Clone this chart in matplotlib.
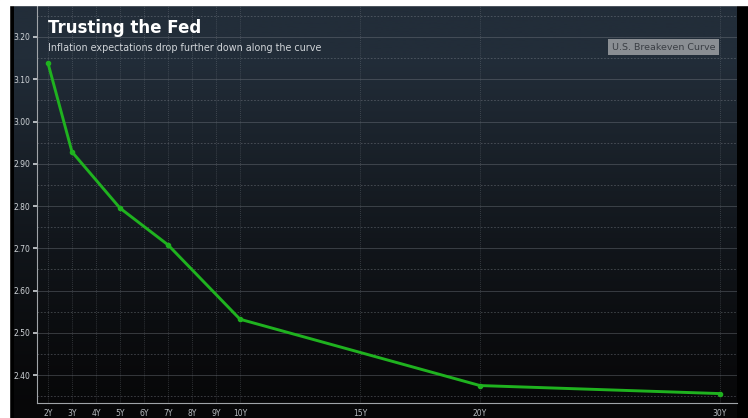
import numpy as np
import matplotlib.pyplot as plt
from matplotlib.patches import Rectangle

# breakeven curve
tenors = [2, 3, 5, 7, 10, 20, 30]
breakeven = [3.138, 2.928, 2.795, 2.708, 2.532, 2.375, 2.356]

tick_pos = [2, 3, 4, 5, 6, 7, 8, 9, 10, 15, 20, 30]
tick_lbl = ["2Y", "3Y", "4Y", "5Y", "6Y", "7Y", "8Y", "9Y", "10Y", "15Y", "20Y", "30Y"]
y_ticks = [2.40, 2.50, 2.60, 2.70, 2.80, 2.90, 3.00, 3.10, 3.20]

W, H = 748, 418
fig = plt.figure(figsize=(W / 100, H / 100), dpi=100, facecolor="black")

# white margins on the left and top of the screenshot
fig.patches.append(Rectangle((0, 0), 9 / W, 1, transform=fig.transFigure, color="white", zorder=0))
fig.patches.append(Rectangle((0, 1 - 5 / H), 1, 5 / H, transform=fig.transFigure, color="white", zorder=0))

# gradient background panel
bg = fig.add_axes([14 / W, 0, (737 - 14) / W, (H - 5) / H])
bg.axis("off")
top = np.array([0x22, 0x2d, 0x39]) / 255
bot = np.array([0x07, 0x07, 0x08]) / 255
t = np.linspace(0, 1, 256)
t = np.clip(t * 1.15, 0, 1) ** 1.3
grad = bot[None, :] * (1 - t[:, None]) + top[None, :] * t[:, None]
bg.imshow(grad[:, None, :], aspect="auto", origin="lower", extent=[0, 1, 0, 1])

ax = fig.add_axes([37 / W, 15 / H, (737 - 37) / W, (403 - 5) / H])
ax.patch.set_alpha(0)
ax.set_xlim(37 / 24, 737 / 24)
ax.set_ylim(3.20 - 366 / 422.5, 3.20 + 32 / 422.5)

ax.set_xticks(tick_pos)
ax.set_xticklabels(tick_lbl)
ax.set_yticks(y_ticks)
ax.set_yticklabels([f"{v:.2f}" for v in y_ticks])
ax.set_yticks(np.arange(2.35, 3.30, 0.1), minor=True)
ax.tick_params(axis="x", length=0, pad=4, labelsize=5.5, colors="#b8bcc0")
ax.tick_params(axis="y", length=3, width=1.2, pad=2, labelsize=5.5, colors="#d0d4d8", direction="out")
ax.tick_params(axis="y", which="minor", length=0)

ax.grid(axis="y", which="major", color="#7a8088", linewidth=0.6, alpha=0.45)
ax.grid(axis="y", which="minor", color="#8a9098", linewidth=0.6, linestyle=(0, (2, 2)), alpha=0.45)
ax.grid(axis="x", which="major", color="#8a9098", linewidth=0.6, linestyle=(0, (1, 1.5)), alpha=0.4)

for s in ["top", "right"]:
    ax.spines[s].set_visible(False)
for s in ["left", "bottom"]:
    ax.spines[s].set_color("#a0a4a8")
    ax.spines[s].set_linewidth(0.8)

ax.plot(tenors, breakeven, color="#1fb21f", linewidth=2.1, marker="o", markersize=3, zorder=5)

fig.text(48 / W, 1 - 28 / H, "Trusting the Fed", color="white", fontsize=12, fontweight="bold", va="center")
fig.text(48 / W, 1 - 48 / H, "Inflation expectations drop further down along the curve",
         color="#d0d4d8", fontsize=6.9, va="center")
fig.text(715 / W, 1 - 47 / H, "U.S. Breakeven Curve", color="#3a3e44", fontsize=6.8,
         ha="right", va="center",
         bbox=dict(boxstyle="square,pad=0.4", facecolor="#8a8e93", edgecolor="none"))

fig.savefig("out.png", dpi=100, facecolor="black")
